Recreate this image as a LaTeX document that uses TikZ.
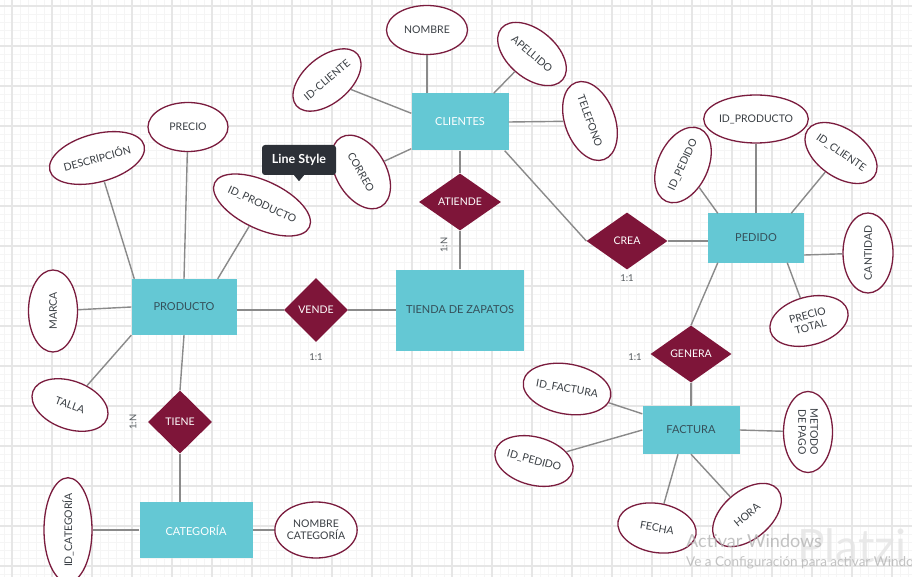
\documentclass[tikz,border=0pt]{standalone}
\usepackage{fontspec}
\setmainfont{Lato}
\usetikzlibrary{shapes.geometric,calc}
\pgfdeclarelayer{gridlayer}
\pgfsetlayers{gridlayer,main}
\definecolor{entc}{HTML}{64C8D4}
\definecolor{relc}{HTML}{7E1539}
\definecolor{attb}{HTML}{7A1C3E}
\definecolor{connc}{HTML}{8A8A8A}
\definecolor{txtc}{HTML}{3A3F44}
\definecolor{entx}{HTML}{35505A}
\definecolor{tipc}{HTML}{2C3037}
\definecolor{minorg}{HTML}{F5F5F5}
\definecolor{majorg}{HTML}{E6E6E6}
\definecolor{wmc}{HTML}{B4B4B4}
\definecolor{wmlogo}{HTML}{E4E4E4}
\begin{document}
\begin{tikzpicture}[x=1pt,y=-1pt,
  entbox/.style={rectangle,fill=entc,inner sep=0pt,text=entx,font=\fontsize{11}{13}\selectfont},
  relbox/.style={diamond,fill=relc,inner sep=0pt,text=white,font=\fontsize{10.5}{12}\selectfont},
  att/.style n args={3}{ellipse,draw=attb,line width=1.3pt,fill=white,inner sep=0pt,
     text=txtc,font=\fontsize{10.5}{12}\selectfont,align=center,
     minimum width=#1,minimum height=#2,rotate=#3},
  card/.style={text=txtc!85,font=\fontsize{9.5}{11}\selectfont,inner sep=0pt},
  conn/.style={draw=connc,line width=1.4pt}]
\useasboundingbox (0,0) rectangle (912,577);
\clip (0,0) rectangle (912,577);
\begin{pgfonlayer}{gridlayer}
\fill[white] (0,0) rectangle (912,577);
\foreach \x in {4,12,...,908} \draw[minorg,line width=0.8pt] (\x,0) -- (\x,577);
\foreach \y in {6,14,...,574} \draw[minorg,line width=0.8pt] (0,\y) -- (912,\y);
\foreach \x in {12,52,...,892} \draw[majorg,line width=1.3pt] (\x,0) -- (\x,577);
\foreach \y in {6,46,...,566} \draw[majorg,line width=1.3pt] (0,\y) -- (912,\y);
\end{pgfonlayer}

% entities
\node[entbox,minimum width=97,minimum height=57,text=white] (cli) at (460,122) {CLIENTES};
\node[entbox,minimum width=105,minimum height=56] (prod) at (184,307) {PRODUCTO};
\node[entbox,minimum width=128,minimum height=81] (tienda) at (460,310) {TIENDA DE ZAPATOS};
\node[entbox,minimum width=96,minimum height=49] (ped) at (756,238) {PEDIDO};
\node[entbox,minimum width=97,minimum height=48] (fac) at (691,430) {FACTURA};
\node[entbox,minimum width=113,minimum height=56,text=white] (cat) at (196,530) {CATEGORÍA};

% relationships
\node[relbox,minimum width=82,minimum height=57] (atiende) at (460,202) {ATIENDE};
\node[relbox,minimum width=64,minimum height=64] (vende) at (316,310) {VENDE};
\node[relbox,minimum width=81,minimum height=57] (crea) at (627,241) {CREA};
\node[relbox,minimum width=81,minimum height=57] (genera) at (691,354) {GENERA};
\node[relbox,minimum width=64,minimum height=63] (tiene) at (180,422) {TIENE};

% cardinalities
\node[card,rotate=90] (c1) at (444,245) {1:N};
\node[card] (c2) at (316,357) {1:1};
\node[card] (c3) at (627,278) {1:1};
\node[card] (c4) at (635,357) {1:1};
\node[card,rotate=90] (c5) at (133,422) {1:N};

% attributes
\node[att={81}{48}{15}] (desc) at (97,158) {DESCRIPCIÓN};
\node[att={80}{49}{0}] (prec) at (188,127) {PRECIO};
\node[att={82}{48}{-25}] (idprod) at (262,205) {ID\_PRODUCTO};
\node[att={82}{49}{90}] (marca) at (53,311) {MARCA};
\node[att={79}{48}{-20}] (talla) at (70,405) {TALLA};
\node[att={90}{48}{90}] (idcat) at (68,530) {ID\_CATEGORÍA};
\node[att={80}{56}{0}] (nomcat) at (316,530) {NOMBRE\\CATEGORÍA};
\node[att={81}{49}{0}] (nombre) at (427,30) {NOMBRE};
\node[att={80}{48}{-40}] (apellido) at (532,54) {APELLIDO};
\node[att={80}{46}{40}] (idcli) at (327,80) {ID-CLIENTE};
\node[att={82}{50}{-70}] (tel) at (590,121) {TELEFONO};
\node[att={80}{50}{-60}] (correo) at (361,172) {CORREO};
\node[att={80}{50}{65}] (idped) at (683,165) {ID\_PEDIDO};
\node[att={80}{48}{0}] (idprod2) at (756,119) {ID\_PRODUCTO};
\node[att={80}{48}{-35}] (idcli2) at (841,153) {ID\_CLIENTE};
\node[att={80}{50}{90}] (cant) at (868,253) {CANTIDAD};
\node[att={80}{48}{15}] (prt) at (809,321) {PRECIO\\TOTAL};
\node[att={80}{50}{-10}] (idfac) at (567,389) {ID\_FACTURA};
\node[att={80}{48}{-15}] (idped2) at (534,461) {ID\_PEDIDO};
\node[att={81}{49}{-90}] (met) at (808,432) {METODO\\DE PAGO};
\node[att={79}{49}{-10}] (fecha) at (657,528) {FECHA};
\node[att={80}{48}{40}] (hora) at (747,515) {HORA};

% connectors
\draw[conn] ([xshift=3pt]prod.north west) -- (desc);
\draw[conn] (prod.north) -- (prec);
\draw[conn] ([xshift=-19pt]prod.north east) -- (idprod);
\draw[conn] (prod.west) -- (marca);
\draw[conn] (prod.south west) -- (talla);
\draw[conn] (prod.south) -- (tiene.north);
\draw[conn] (tiene.south) -- (tiene.south |- cat.north);
\draw[conn] (cat.west) -- (idcat);
\draw[conn] (cat.east) -- (nomcat);
\draw[conn] (prod.east |- vende.west) -- (vende.west);
\draw[conn] (vende.east) -- (tienda.west);
\draw[conn] (tienda.north) -- (atiende.south);
\draw[conn] (atiende.north) -- (cli.south);
\draw[conn] (cli.north -| nombre) -- (nombre);
\draw[conn] ([xshift=-15pt]cli.north east) -- (apellido);
\draw[conn] ([yshift=-20pt]cli.north west) -- (idcli);
\draw[conn] (cli.east) -- (tel);
\draw[conn] ([yshift=2pt]cli.south west) -- (correo);
\draw[conn] ([xshift=-4pt]cli.south east) -- (crea.west);
\draw[conn] (crea.east) -- (crea.east -| ped.west);
\draw[conn] ([xshift=10pt]ped.north west) -- (idped);
\draw[conn] (ped.north) -- (idprod2);
\draw[conn] ([xshift=-13pt]ped.north east) -- (idcli2);
\draw[conn] ([yshift=-17pt]ped.east) -- (cant);
\draw[conn] ([xshift=-17pt]ped.south east) -- (prt);
\draw[conn] ([xshift=10pt]ped.south west) -- (genera.north);
\draw[conn] (genera.south) -- (fac.north);
\draw[conn] ([yshift=-8pt]fac.north west) -- (idfac);
\draw[conn] (fac.west) -- (idped2);
\draw[conn] (fac.east) -- (met);
\draw[conn] ([xshift=-13pt]fac.south) -- (fecha);
\draw[conn] (fac.south) -- (hora);

% tooltip
\node[fill=tipc,rounded corners=3pt,text=white,font=\bfseries\fontsize{12.5}{14}\selectfont,
      minimum width=74,minimum height=30,inner sep=0pt] (tip) at (299,160) {Line Style};
\fill[tipc] ([xshift=-5pt]tip.south) -- ([xshift=5pt]tip.south) -- ([yshift=-6pt]tip.south) -- cycle;

% watermark (overlay)
\node[anchor=west,text=wmlogo,font=\fontsize{46}{50}\selectfont,inner sep=0pt,opacity=0.8] (logo) at (797,546) {Platzi};
\node[anchor=west,text=wmc,font=\fontsize{18}{20}\selectfont,inner sep=0pt,opacity=0.8] (wm1) at (686,541) {Activar Windows};
\node[anchor=west,text=wmc,font=\fontsize{13.5}{15}\selectfont,inner sep=0pt,opacity=0.8] (wm2) at (686,563) {Ve a Configuración para activar Windows};
\end{tikzpicture}
\end{document}
